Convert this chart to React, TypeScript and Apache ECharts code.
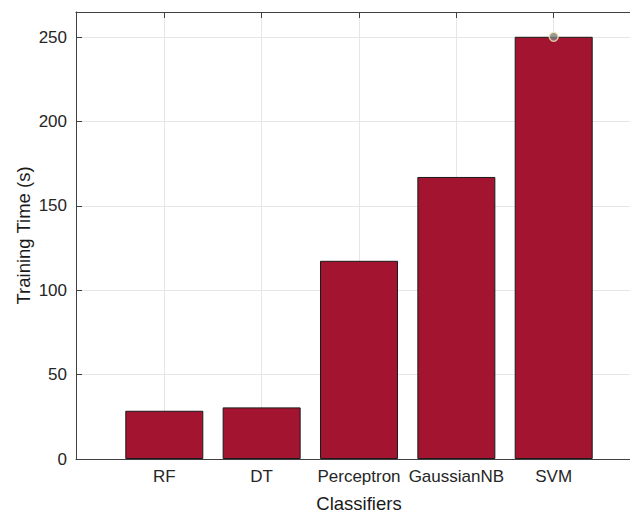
import React, { useEffect, useRef } from "react";
import * as echarts from "echarts";

const categories = ["RF", "DT", "Perceptron", "GaussianNB", "SVM"];
const trainingTime = [28.6, 30.6, 117.5, 167.2, 250.3];
const highlightPoint = [5, 250.3];
const yTicks = [0, 50, 100, 150, 200, 250];
const xTicks = [1, 2, 3, 4, 5];

const FONT = "Liberation Sans, Arial, Helvetica, sans-serif";
const AXIS_COLOR = "#404040";
const GRID_COLOR = "#e6e6e6";

export default function App() {
  const ref = useRef<HTMLDivElement>(null);
  useEffect(() => {
    if (!ref.current) return;
    const chart = echarts.init(ref.current, undefined, { renderer: "svg" });
    const xMin = 0.093;
    const xMax = 5.907;
    chart.setOption({
      animation: false,
      backgroundColor: "#ffffff",
      grid: {
        left: 76,
        top: 12,
        width: 566,
        height: 447,
        containLabel: false,
        outerBoundsMode: "none",
      },
      xAxis: [
        {
          type: "value",
          min: xMin,
          max: xMax,
          position: "bottom",
          name: "Classifiers",
          nameLocation: "middle",
          nameGap: 35,
          nameMoveOverlap: false,
          nameTextStyle: { fontFamily: FONT, fontSize: 18.5, color: "#1a1a1a", lineHeight: 18 },
          axisLine: { show: true, onZero: false, lineStyle: { color: AXIS_COLOR, width: 1 } },
          axisTick: { show: true, inside: true, length: 6, customValues: xTicks, lineStyle: { color: AXIS_COLOR } },
          axisLabel: {
            show: true,
            customValues: xTicks,
            margin: 9,
            fontFamily: FONT,
            fontSize: 17,
            color: "#262626",
            formatter: (v: number) => categories[Math.round(v) - 1] ?? "",
          },
          splitLine: { show: true, lineStyle: { color: GRID_COLOR, width: 1 } },
        },
        {
          type: "value",
          min: xMin,
          max: xMax,
          position: "top",
          axisLine: { show: true, onZero: false, lineStyle: { color: AXIS_COLOR, width: 1 } },
          axisTick: { show: true, inside: true, length: 6, customValues: xTicks, lineStyle: { color: AXIS_COLOR } },
          axisLabel: { show: false },
          splitLine: { show: false },
        },
      ],
      yAxis: {
        type: "value",
        min: 0,
        max: 265,
        name: "Training Time (s)",
        nameLocation: "middle",
        nameGap: 44,
        nameMoveOverlap: false,
        nameTextStyle: { fontFamily: FONT, fontSize: 18.5, color: "#1a1a1a", lineHeight: 18 },
        axisLine: { show: true, onZero: false, lineStyle: { color: AXIS_COLOR, width: 1 } },
        axisTick: { show: true, inside: true, length: 6, customValues: yTicks, lineStyle: { color: AXIS_COLOR } },
        axisLabel: {
          show: true,
          customValues: yTicks,
          margin: 9,
          fontFamily: FONT,
          fontSize: 17,
          color: "#262626",
        },
        splitLine: { show: true, lineStyle: { color: GRID_COLOR, width: 1 } },
      },
      series: [
        {
          type: "bar",
          xAxisIndex: 0,
          barWidth: 78,
          data: trainingTime.map((v, i) => [i + 1, v]),
          itemStyle: { color: "#A2142F", borderColor: "#1a1a1a", borderWidth: 1 },
          z: 2,
        },
        {
          type: "scatter",
          xAxisIndex: 0,
          data: [highlightPoint],
          symbol: "circle",
          symbolSize: 9,
          itemStyle: { color: "#7f7f7f", borderColor: "#f3ecb8", borderWidth: 1.5 },
          z: 5,
        },
      ],
    });
    return () => chart.dispose();
  }, []);
  return (
    <div
      ref={ref}
      style={{ position: "fixed", left: 0, top: 0, width: 630, height: 512, background: "#fff" }}
    />
  );
}
